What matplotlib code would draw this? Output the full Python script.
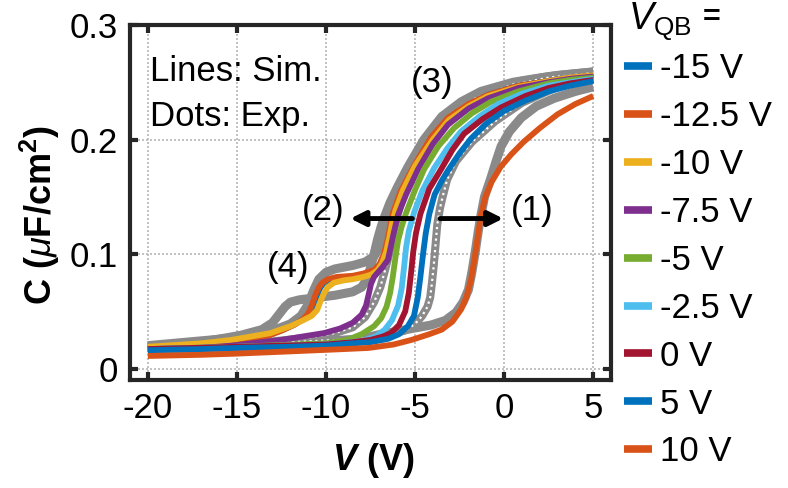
import matplotlib
matplotlib.use("Agg")
import matplotlib.pyplot as plt
from matplotlib.lines import Line2D

plt.rcParams['font.family'] = ['Liberation Sans', 'DejaVu Sans']
plt.rcParams['axes.unicode_minus'] = False
plt.rcParams['mathtext.fontset'] = 'custom'
plt.rcParams['mathtext.rm'] = 'Liberation Sans'
plt.rcParams['mathtext.it'] = 'Liberation Sans:italic'
plt.rcParams['mathtext.bf'] = 'Liberation Sans:bold'
plt.rcParams['mathtext.bfit'] = 'Liberation Sans:italic:bold'

# ---------------- data ----------------
vqb_labels = ['-15 V', '-12.5 V', '-10 V', '-7.5 V', '-5 V', '-2.5 V', '0 V', '5 V', '10 V']
colors = ['#0072BD', '#D95319', '#EDB120', '#7E2F8E', '#77AC30', '#4DBEEE', '#A2142F', '#0072BD', '#D95319']

# simulations (V, C in uF/cm^2)
sim_m15_v = [-20, -17, -15.3, -13.4, -12.4, -11.7, -11.2, -10.9, -10.7, -10.5, -10.3, -10.1, -9.8, -9.3, -8.5, -7.9, -7.3, -7.0, -6.72, -6.52, -6.37, -6.2, -5.75, -5.03, -4.05, -3.12, -2.0, -0.9, 0.8, 2.47, 3.7, 5]
sim_m15_c = [0.018, 0.021, 0.023, 0.028, 0.034, 0.039, 0.044, 0.049, 0.056, 0.065, 0.071, 0.075, 0.077, 0.079, 0.080, 0.082, 0.085, 0.090, 0.100, 0.112, 0.124, 0.136, 0.155, 0.177, 0.201, 0.218, 0.230, 0.239, 0.247, 0.251, 0.254, 0.256]
sim_m125_v = [-20, -17, -15.3, -13.5, -12.5, -11.8, -11.3, -11.0, -10.8, -10.6, -10.4, -10.2, -9.9, -9.4, -8.5, -7.9, -7.3, -7.0, -6.75, -6.55, -6.4, -6.24, -5.8, -5.06, -4.1, -3.15, -2.0, -0.9, 0.8, 2.47, 3.7, 5]
sim_m125_c = [0.018, 0.020, 0.022, 0.027, 0.033, 0.038, 0.043, 0.048, 0.055, 0.064, 0.071, 0.075, 0.078, 0.080, 0.081, 0.083, 0.086, 0.091, 0.100, 0.112, 0.124, 0.136, 0.155, 0.177, 0.202, 0.219, 0.231, 0.239, 0.247, 0.251, 0.254, 0.256]
sim_m10_v = [-20, -17, -15.3, -13.1, -12.0, -11.3, -10.8, -10.5, -10.3, -10.1, -9.9, -9.55, -9.0, -8.5, -7.9, -7.47, -7.1, -6.85, -6.62, -6.45, -6.3, -6.1, -5.7, -5.0, -4.0, -3.1, -2.0, -0.9, 0.8, 2.5, 3.7, 5]
sim_m10_c = [0.019, 0.022, 0.025, 0.031, 0.037, 0.042, 0.046, 0.051, 0.059, 0.066, 0.071, 0.075, 0.077, 0.078, 0.080, 0.082, 0.086, 0.092, 0.102, 0.114, 0.126, 0.138, 0.155, 0.177, 0.200, 0.217, 0.229, 0.238, 0.246, 0.251, 0.254, 0.256]
sim_m75_v = [-20, -17, -15.3, -12.5, -10.1, -9.2, -8.5, -8.0, -7.75, -7.6, -7.47, -7.3, -7.08, -6.8, -6.52, -6.38, -6.2, -5.96, -5.5, -4.83, -4.0, -3.15, -2.0, -0.9, 0.8, 2.5, 3.7, 5]
sim_m75_c = [0.017, 0.018, 0.020, 0.025, 0.031, 0.035, 0.040, 0.047, 0.055, 0.065, 0.074, 0.080, 0.084, 0.089, 0.095, 0.105, 0.118, 0.134, 0.152, 0.174, 0.196, 0.213, 0.227, 0.236, 0.245, 0.250, 0.253, 0.255]
sim_m5_v = [-20, -15, -10, -8.8, -8.0, -7.3, -6.9, -6.6, -6.4, -6.25, -6.1, -5.95, -5.75, -5.5, -5.0, -4.49, -3.7, -2.81, -1.8, -0.73, 0.8, 2.5, 3.7, 5]
sim_m5_c = [0.017, 0.019, 0.022, 0.025, 0.030, 0.037, 0.044, 0.054, 0.066, 0.080, 0.097, 0.112, 0.124, 0.136, 0.156, 0.174, 0.194, 0.210, 0.223, 0.233, 0.242, 0.249, 0.252, 0.254]
sim_m25_v = [-20, -15, -10, -8, -7.2, -6.7, -6.3, -5.95, -5.75, -5.62, -5.5, -5.35, -5.06, -4.6, -3.93, -3.2, -2.42, -1.4, -0.34, 1.0, 2.5, 3.7, 5]
sim_m25_c = [0.017, 0.019, 0.021, 0.024, 0.028, 0.034, 0.042, 0.055, 0.070, 0.088, 0.106, 0.120, 0.136, 0.155, 0.175, 0.192, 0.207, 0.220, 0.231, 0.240, 0.247, 0.250, 0.253]
sim_0_v = [-20, -15, -10, -8.5, -7.5, -6.8, -6.35, -5.9, -5.55, -5.35, -5.22, -5.1, -4.95, -4.7, -4.2, -3.54, -2.9, -2.25, -1.2, -0.17, 1.2, 2.5, 3.7, 5]
sim_0_c = [0.017, 0.019, 0.021, 0.023, 0.025, 0.028, 0.031, 0.038, 0.050, 0.066, 0.084, 0.102, 0.118, 0.135, 0.157, 0.174, 0.191, 0.205, 0.218, 0.228, 0.238, 0.245, 0.249, 0.252]
sim_5_v = [-20, -17, -15, -12, -10, -8.5, -7.5, -6.5, -5.9, -5.4, -5.06, -4.85, -4.7, -4.55, -4.4, -4.2, -3.9, -3.5, -3.15, -2.5, -1.85, -1.0, 0, 1.2, 2.5, 3.7, 5]
sim_5_c = [0.016, 0.017, 0.018, 0.019, 0.020, 0.022, 0.023, 0.026, 0.030, 0.037, 0.046, 0.062, 0.080, 0.100, 0.118, 0.135, 0.152, 0.164, 0.173, 0.188, 0.201, 0.214, 0.225, 0.234, 0.242, 0.247, 0.251]
sim_10_v = [-20, -17, -15.06, -12, -9, -7.6, -6.2, -5.2, -4.2, -3.5, -2.9, -2.4, -2.1, -1.85, -1.65, -1.46, -1.29, -1.05, -0.7, -0.2, 0.4, 1.1, 2.0, 3.0, 4.0, 5.0]
sim_10_c = [0.011, 0.012, 0.013, 0.015, 0.017, 0.018, 0.021, 0.025, 0.030, 0.034, 0.041, 0.052, 0.063, 0.078, 0.097, 0.117, 0.135, 0.150, 0.163, 0.176, 0.187, 0.198, 0.210, 0.222, 0.231, 0.238]

sim_v = [sim_m15_v, sim_m125_v, sim_m10_v, sim_m75_v, sim_m5_v, sim_m25_v, sim_0_v, sim_5_v, sim_10_v]
sim_c = [sim_m15_c, sim_m125_c, sim_m10_c, sim_m75_c, sim_m5_c, sim_m25_c, sim_0_c, sim_5_c, sim_10_c]

# experiments (gray dots)
exp1_v = [-20, -17, -14.8, -13.6, -13.0, -12.6, -12.3, -12.0, -11.5, -10.5, -9.5, -8.5, -8.0, -7.7, -7.5, -7.3, -7.1, -6.9, -6.7, -6.4, -6.0, -5.4, -4.5, -3.5, -2.4, -1.3, 0.5, 2.5, 5.0]
exp1_c = [0.019, 0.023, 0.029, 0.034, 0.040, 0.048, 0.054, 0.058, 0.060, 0.062, 0.064, 0.067, 0.071, 0.078, 0.088, 0.100, 0.113, 0.124, 0.133, 0.145, 0.158, 0.176, 0.200, 0.220, 0.233, 0.242, 0.250, 0.255, 0.259]
exp2_v = [-20, -15, -13, -12, -11.4, -11.0, -10.7, -10.4, -10.0, -9.5, -8.5, -7.8, -7.3, -7.0, -6.8, -6.6, -6.4, -6.1, -5.6, -4.8, -3.8, -2.5, -1.0, 1.0, 3.0, 5.0]
exp2_c = [0.020, 0.027, 0.033, 0.039, 0.046, 0.056, 0.068, 0.078, 0.084, 0.087, 0.090, 0.093, 0.098, 0.106, 0.117, 0.128, 0.140, 0.152, 0.168, 0.188, 0.208, 0.227, 0.241, 0.251, 0.256, 0.259]
exp3_v = [-20, -14, -11, -9.5, -8.5, -7.8, -7.3, -6.95, -6.7, -6.45, -6.2, -5.8, -5.2, -4.4, -3.2, -1.6, 0.5, 2.5, 5.0]
exp3_c = [0.018, 0.022, 0.027, 0.031, 0.036, 0.045, 0.058, 0.071, 0.085, 0.100, 0.120, 0.145, 0.170, 0.195, 0.218, 0.236, 0.248, 0.254, 0.258]
exp4_v = [-20, -12, -8, -6.5, -5.6, -5.0, -4.6, -4.3, -4.15, -4.05, -3.95, -3.85, -3.75, -3.6, -3.45, -3.2, -2.7, -1.8, -0.5, 1.0, 3.0, 5.0]
exp4_c = [0.020, 0.023, 0.026, 0.029, 0.033, 0.039, 0.046, 0.054, 0.062, 0.075, 0.090, 0.108, 0.126, 0.140, 0.150, 0.165, 0.181, 0.198, 0.216, 0.232, 0.246, 0.253]
exp5_v = [-20, -12, -8, -6.9, -5.5, -4.1, -3.3, -2.7, -2.3, -2.0, -1.8, -1.6, -1.45, -1.3, -1.1, -0.73, -0.45, -0.17, 0.3, 0.96, 1.8, 2.81, 4.0, 5.0]
exp5_c = [0.016, 0.020, 0.026, 0.030, 0.034, 0.038, 0.042, 0.049, 0.058, 0.069, 0.085, 0.104, 0.120, 0.134, 0.150, 0.167, 0.181, 0.194, 0.207, 0.219, 0.229, 0.236, 0.242, 0.246]

xticks = [-20, -15, -10, -5, 0, 5]
yticks = [0, 0.1, 0.2, 0.3]
ytick_labels = ['0', '0.1', '0.2', '0.3']

# ---------------- figure ----------------
fig = plt.figure(figsize=(7.88, 4.88), dpi=100)
ax = fig.add_axes([130/788, 1-380/488, (611-130)/788, (380-25)/488])

gray = '#8a8a8a'
for ev, ec in [(exp1_v, exp1_c), (exp2_v, exp2_c), (exp5_v, exp5_c)]:
    ax.plot(ev, ec, color=gray, lw=6.5, solid_capstyle='butt', solid_joinstyle='round', zorder=1)
for ev, ec in [(exp3_v, exp3_c), (exp4_v, exp4_c)]:
    ax.plot(ev, ec, color=gray, lw=5.8, solid_capstyle='butt', solid_joinstyle='round', zorder=1)
    ax.plot(ev, ec, color='white', lw=1.6, ls=(0, (1.0, 1.6)), zorder=1.1)

handles = []
for v, c, col, lab in zip(sim_v, sim_c, colors, vqb_labels):
    ax.plot(v, c, color=col, lw=4.2, zorder=2, solid_joinstyle='round', solid_capstyle='butt')
    handles.append(Line2D([], [], color=col, lw=5.5, label=lab, solid_capstyle='butt'))

ax.set_xlim(-21, 6)
ax.set_ylim(-0.01, 0.3)
ax.set_xticks(xticks)
ax.set_xticklabels([str(t) for t in xticks])
ax.set_yticks(yticks)
ax.set_yticklabels(ytick_labels)
ax.grid(True, ls=(0, (1.2, 1.2)), color='#b8b8b8', lw=1.2)
ax.set_axisbelow(True)
for s in ax.spines.values():
    s.set_linewidth(3)
    s.set_color('#262626')
ax.tick_params(direction='in', length=6, width=3, top=True, right=True,
               labelsize=25, pad=9, color='#262626')

fs = 25
ax.text(-19.85, 0.259, 'Lines: Sim.', fontsize=fs, ha='left', va='center')
ax.text(-19.85, 0.220, 'Dots: Exp.', fontsize=fs, ha='left', va='center')
ax.text(-4.03, 0.250, '(3)', fontsize=fs, ha='center', va='center')
ax.text(-10.14, 0.138, '(2)', fontsize=fs, ha='center', va='center')
ax.text(1.57, 0.138, '(1)', fontsize=fs, ha='center', va='center')
ax.text(-12.1, 0.088, '(4)', fontsize=fs, ha='center', va='center')

arrow = dict(arrowstyle='-|>', lw=3.5, color='k', mutation_scale=22, shrinkA=0, shrinkB=0)
ax.annotate('', xy=(-8.63, 0.131), xytext=(-5.15, 0.131), arrowprops=arrow, zorder=5)
ax.annotate('', xy=(-0.05, 0.131), xytext=(-3.59, 0.131), arrowprops=arrow, zorder=5)

fig.text(40/788, 1-215/488, r'C ($\mu$F/cm$^{\mathbf{2}}$)', rotation=90, fontsize=26,
         fontweight='bold', ha='center', va='center')
fig.text(373/788, 1-460/488, r'$\mathbfit{V}$ (V)', fontsize=26, fontweight='bold',
         ha='center', va='center')

leg = fig.legend(handles=handles, loc='upper left', bbox_to_anchor=(624/788, 1-52/488),
                 frameon=False, fontsize=fs, handlelength=0.8, handletextpad=0.25,
                 labelspacing=0.43, borderaxespad=0, borderpad=0)
fig.text(628/788, 1-22/488, r'$V_{\mathrm{QB}}$', fontsize=27, ha='left', va='center')
fig.text(712/788, 1-18/488, '=', fontsize=22, fontweight='bold', ha='center', va='center')

fig.savefig('out.png', dpi=100)
